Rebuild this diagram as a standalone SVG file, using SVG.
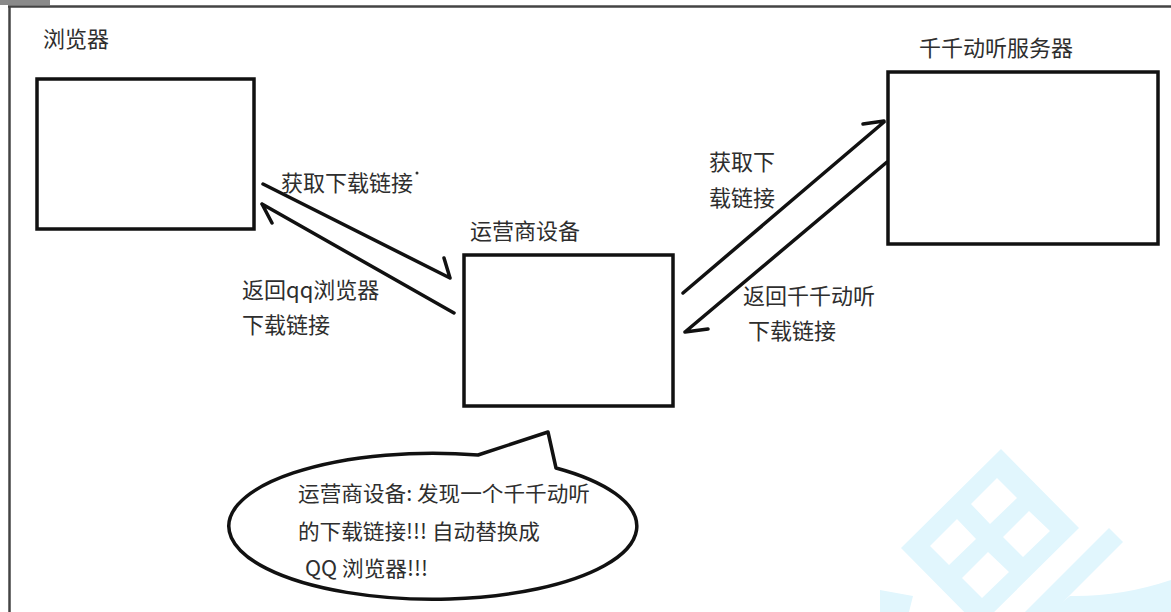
<svg xmlns="http://www.w3.org/2000/svg" width="1171" height="612" viewBox="0 0 1171 612">
<style>
.box{fill:none;stroke:#111;stroke-width:3.5}
.lbl{font-family:"Noto Sans CJK SC","Noto Sans",sans-serif;font-size:22px;fill:#2e2e2e}
.cl{font-family:"Noto Sans CJK SC","Noto Sans",sans-serif;font-size:21px;fill:#2e2e2e}
.arr{fill:none;stroke:#111;stroke-width:3.5;stroke-linecap:round;stroke-linejoin:round}
.wm{fill:#e1f6fd}
</style>
<rect x="0" y="0" width="1171" height="612" fill="#fff"/>
<g id="watermark">
<path class="wm" fill-rule="evenodd" d="M1001,449 L1079,528 L979,627 L901,548 Z M997,478 L1017,498 L990,524 L971,504 Z M957,519 L976,539 L949,565 L930,546 Z M1029,511 L1050,531 L1023,557 L1003,537 Z M988,552 L1009,572 L982,598 L962,578 Z"/>
<polygon class="wm" points="1109,528 1123,542 1053,612 1025,612"/>
<path class="wm" d="M1070,596 Q1120,597 1171,580 L1171,612 L1050,612 Z"/>
<polygon class="wm" points="880,590 913,596 909,612 880,612"/>
</g>
<g id="frame">
<rect x="0" y="0" width="50" height="5" fill="#8a8a8a"/>
<line x1="8" y1="6.5" x2="1171" y2="6.5" stroke="#444" stroke-width="2.5"/>
<line x1="9.5" y1="6" x2="9.5" y2="612" stroke="#444" stroke-width="2.5"/>
</g>
<g id="browser">
<rect class="box" x="37" y="79" width="217" height="150"/>
<text class="lbl" x="43" y="47">浏览器</text>
</g>
<g id="operator">
<rect class="box" x="464" y="255" width="209" height="151"/>
<text class="lbl" x="470" y="239">运营商设备</text>
</g>
<g id="server">
<rect class="box" x="888" y="72" width="270" height="172"/>
<text class="lbl" x="919" y="56">千千动听服务器</text>
</g>
<g id="connectors">
<path class="arr" d="M263,184 L450,278 M444,258 L450,278"/>
<path class="arr" d="M454,313 L262,204 M262,204 L272,223"/>
<path class="arr" d="M683,293 L884,122 M863,124 L884,121"/>
<path class="arr" d="M887,162 L685,332 M685,332 L708,329"/>
<text class="lbl" x="281" y="191">获取下载链接</text>
<circle cx="417" cy="173" r="1.5" fill="#333"/>
<text class="lbl" x="242" y="298">返回qq浏览器</text>
<text class="lbl" x="242" y="333">下载链接</text>
<text class="lbl" x="709" y="170">获取下</text>
<text class="lbl" x="709" y="206">载链接</text>
<text class="lbl" x="743" y="304">返回千千动听</text>
<text class="lbl" x="748" y="339">下载链接</text>
</g>
<g id="callout">
<path d="M478,455 L548,432 L556,468 A204,73 0 1 1 478,455 Z" fill="#fff" stroke="#111" stroke-width="3.5" stroke-linejoin="round"/>
<text class="cl" x="298" y="501" textLength="292" lengthAdjust="spacingAndGlyphs">运营商设备: 发现一个千千动听</text>
<text class="cl" x="298" y="539" textLength="242" lengthAdjust="spacingAndGlyphs">的下载链接!!! 自动替换成</text>
<text class="cl" x="305" y="576" textLength="123" lengthAdjust="spacingAndGlyphs">QQ 浏览器!!!</text>
</g>
</svg>
